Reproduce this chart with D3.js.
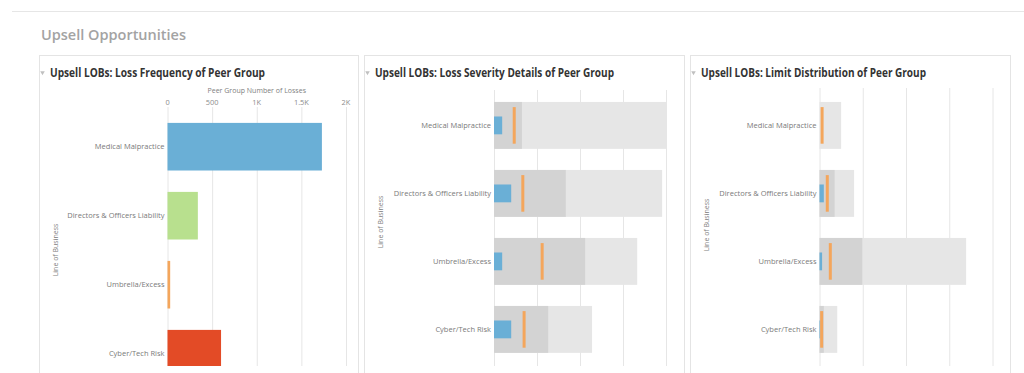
<!DOCTYPE html>
<html>
<head>
<meta charset="utf-8">
<script src="https://cdn.jsdelivr.net/npm/d3@7"></script>
<style>
  body { margin: 0; background: #fff; }
  svg { display: block; }
  text { font-family: "Open Sans", sans-serif; }
</style>
</head>
<body>
<div id="chart"></div>
<script>
// data
const categories = ['Medical Malpractice', 'Directors & Officers Liability', 'Umbrella/Excess', 'Cyber/Tech Risk']
const lossCounts = [1730, 340, 30, 600]
const lossColors = ['#6aafd6', '#b8e08e', '#f4a65c', '#e34b26']
const freqTicks = [0, 500, 1000, 1500, 2000]
const freqTickLabels = ['0', '500', '1K', '1.5K', '2K']

// loss severity: range (light), peer median band (dark), client (blue), peer avg (orange)
const sevRange = [4.0, 3.91, 3.33, 2.28]
const sevBand = [0.65, 1.67, 2.12, 1.26]
const sevClient = [0.19, 0.40, 0.19, 0.40]
const sevPeer = [0.47, 0.67, 1.12, 0.70]

// limit distribution
const limRange = [0.50, 0.80, 3.39, 0.41]
const limBand = [0.0, 0.35, 0.99, 0.10]
const limClient = [0.0, 0.10, 0.06, 0.02]
const limPeer = [0.06, 0.18, 0.25, 0.05]

const gridTicks = [0, 1, 2, 3, 4]

const width = 1024, height = 373

const svg = d3.select('#chart').append('svg')
    .attr('width', width)
    .attr('height', height)

// page header
svg.append('line')
    .attr('x1', 12).attr('x2', width)
    .attr('y1', 11.5).attr('y2', 11.5)
    .attr('stroke', '#e6e6e6')

svg.append('text')
    .attr('x', 41).attr('y', 40)
    .attr('font-size', 14.5)
    .attr('font-weight', 600)
    .attr('fill', '#a3a3a3')
    .text('Upsell Opportunities')

const clip = svg.append('defs').append('clipPath').attr('id', 'plotclip')
clip.append('rect').attr('x', 0).attr('y', 0).attr('width', width).attr('height', 366)

function drawPanel(p) {
    const g = svg.append('g')

    g.append('rect')
        .attr('x', p.x0 + 0.5).attr('y', 55.5)
        .attr('width', p.x1 - p.x0).attr('height', 330)
        .attr('fill', 'none')
        .attr('stroke', '#e4e4e4')

    g.append('path')
        .attr('d', d3.symbol(d3.symbolTriangle, 9)())
        .attr('transform', `translate(${p.x0 + 3.5},72.5) rotate(180)`)
        .attr('fill', '#c0c0c0')

    g.append('text')
        .attr('x', p.x0 + 11).attr('y', 77)
        .attr('font-size', 11.5)
        .attr('font-weight', 700)
        .attr('fill', '#333')
        .attr('textLength', p.titleLen)
        .attr('lengthAdjust', 'spacingAndGlyphs')
        .text(p.title)

    // y label
    g.append('text')
        .attr('transform', `translate(${p.x0 + 19},${p.yLabelY}) rotate(-90)`)
        .attr('text-anchor', 'middle')
        .attr('font-size', 7)
        .attr('fill', '#808080')
        .text('Line of Business')

    const yScale = d3.scaleBand()
        .domain(categories)
        .range(p.yRange)
        .paddingInner(0.31)
        .paddingOuter(0.155)

    // grid
    const grid = g.append('g').attr('clip-path', 'url(#plotclip)')
    grid.selectAll('line')
        .data(p.ticks)
        .join('line')
        .attr('x1', d => p.xScale(d) + 0.5).attr('x2', d => p.xScale(d) + 0.5)
        .attr('y1', p.gridTop).attr('y2', 366)
        .attr('stroke', '#e6e6e6')

    // category labels
    g.selectAll('text.cat')
        .data(categories)
        .join('text')
        .attr('class', 'cat')
        .attr('x', p.xScale(0) - 3)
        .attr('y', d => yScale(d) + yScale.bandwidth() / 2 + 2.5)
        .attr('text-anchor', 'end')
        .attr('font-size', 7.5)
        .attr('fill', '#7a7a7a')
        .text(d => d)

    return { g, yScale, plot: g.append('g').attr('clip-path', 'url(#plotclip)') }
}

// panel 1: loss frequency
{
    const xScale = d3.scaleLinear().domain([0, 2000]).range([167.5, 346])
    const { g, yScale, plot } = drawPanel({
        x0: 39, x1: 358, title: 'Upsell LOBs: Loss Frequency of Peer Group', titleLen: 215,
        xScale, ticks: freqTicks, yRange: [112.2, 388.2], gridTop: 107, yLabelY: 250
    })

    g.append('text')
        .attr('x', xScale(1000)).attr('y', 93)
        .attr('text-anchor', 'middle')
        .attr('font-size', 7)
        .attr('fill', '#808080')
        .text('Peer Group Number of Losses')

    g.selectAll('text.tick')
        .data(freqTicks)
        .join('text')
        .attr('class', 'tick')
        .attr('x', d => xScale(d))
        .attr('y', 105)
        .attr('text-anchor', 'middle')
        .attr('font-size', 7.4)
        .attr('fill', '#8c8c8c')
        .text((d, i) => freqTickLabels[i])

    plot.selectAll('rect')
        .data(categories)
        .join('rect')
        .attr('x', xScale(0))
        .attr('y', d => yScale(d))
        .attr('width', (d, i) => xScale(lossCounts[i]) - xScale(0))
        .attr('height', yScale.bandwidth())
        .attr('fill', (d, i) => lossColors[i])
}

function drawBullet(p, range, band, client, peer) {
    const { yScale, plot } = drawPanel(p)
    const x = p.xScale
    const bw = yScale.bandwidth()

    plot.selectAll('rect.range')
        .data(categories)
        .join('rect')
        .attr('class', 'range')
        .attr('x', x(0)).attr('y', d => yScale(d))
        .attr('width', (d, i) => x(range[i]) - x(0))
        .attr('height', bw)
        .attr('fill', '#e6e6e6')

    plot.selectAll('rect.band')
        .data(categories)
        .join('rect')
        .attr('class', 'band')
        .attr('x', x(0)).attr('y', d => yScale(d))
        .attr('width', (d, i) => x(band[i]) - x(0))
        .attr('height', bw)
        .attr('fill', '#d3d3d3')

    plot.selectAll('rect.client')
        .data(categories)
        .join('rect')
        .attr('class', 'client')
        .attr('x', x(0)).attr('y', d => yScale(d) + bw * 0.31)
        .attr('width', (d, i) => x(client[i]) - x(0))
        .attr('height', bw * 0.38)
        .attr('fill', '#6aafd6')

    plot.selectAll('rect.peer')
        .data(categories)
        .join('rect')
        .attr('class', 'peer')
        .attr('x', (d, i) => x(peer[i]) - 1.5).attr('y', d => yScale(d) + bw * 0.11)
        .attr('width', 3)
        .attr('height', bw * 0.78)
        .attr('fill', '#f4a65c')
}

// panel 2: loss severity
drawBullet({
    x0: 364, x1: 684, title: 'Upsell LOBs: Loss Severity Details of Peer Group', titleLen: 239,
    xScale: d3.scaleLinear().domain([0, 4]).range([494, 666]),
    ticks: gridTicks, yRange: [91.4, 363.4], gridTop: 90, yLabelY: 222
}, sevRange, sevBand, sevClient, sevPeer)

// panel 3: limit distribution
drawBullet({
    x0: 690, x1: 1010, title: 'Upsell LOBs: Limit Distribution of Peer Group', titleLen: 225,
    xScale: d3.scaleLinear().domain([0, 4]).range([819.5, 992.5]),
    ticks: gridTicks, yRange: [91.4, 363.4], gridTop: 88, yLabelY: 225
}, limRange, limBand, limClient, limPeer)
</script>
</body>
</html>
